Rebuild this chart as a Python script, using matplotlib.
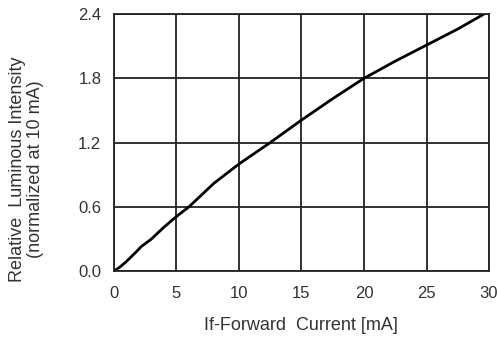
import matplotlib
matplotlib.use("Agg")
import matplotlib.pyplot as plt

plt.rcParams['font.family'] = ['Liberation Sans', 'DejaVu Sans']

# forward current (mA) vs relative luminous intensity (normalized at 10 mA)
current = [0.0, 0.5, 1.0, 1.7, 2.2, 3.0, 4.0, 5.0, 6.0, 8.0, 10.0, 12.5, 15.0, 17.5, 20.0, 22.5, 25.0, 27.5, 29.6]
intensity = [0.0, 0.04, 0.09, 0.17, 0.23, 0.30, 0.41, 0.51, 0.60, 0.82, 1.00, 1.20, 1.41, 1.61, 1.80, 1.96, 2.11, 2.26, 2.40]

x_ticks = [0, 5, 10, 15, 20, 25, 30]
y_ticks = [0.0, 0.6, 1.2, 1.8, 2.4]

fig = plt.figure(figsize=(4.97, 3.42), dpi=100)
ax = fig.add_axes([0.229, 0.207, 0.755, 0.752])

ax.plot(current, intensity, color='black', linewidth=2.0, solid_capstyle='round')

ax.set_xlim(0, 30)
ax.set_ylim(0, 2.4)
ax.set_xticks(x_ticks)
ax.set_yticks(y_ticks)
ax.set_yticklabels([f'{v:.1f}' for v in y_ticks])
ax.grid(True, color='#222222', linewidth=1.3)
for s in ax.spines.values():
    s.set_color('#222222')
    s.set_linewidth(1.3)
ax.tick_params(axis='y', length=0, labelsize=12, colors='#333333', pad=9)
ax.tick_params(axis='x', length=0, labelsize=12, colors='#333333', pad=11)

ax.set_xlabel('If-Forward  Current [mA]', fontsize=13, color='#333333', labelpad=11)
ax.set_ylabel('Relative  Luminous Intensity\n(normalized at 10 mA)', fontsize=13,
              color='#333333', linespacing=1.05, va='center')
ax.yaxis.set_label_coords(-0.232, 0.397)

fig.savefig('out.png', dpi=100)
